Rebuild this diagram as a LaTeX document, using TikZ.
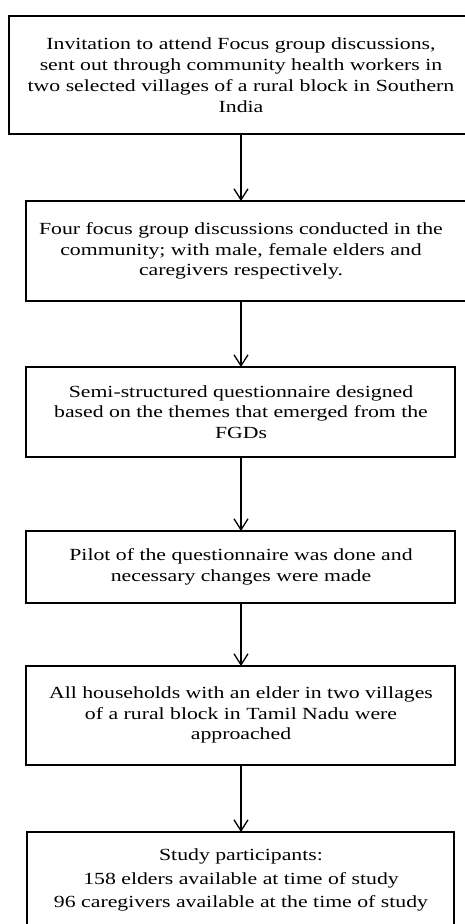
\documentclass[tikz,border=0pt]{standalone}
\usepackage{fontspec}
\setmainfont{Liberation Serif}[FakeStretch=1.28]
\usetikzlibrary{arrows.meta}
\begin{document}
\begin{tikzpicture}[x=1pt,y=-1pt,
  boxframe/.style={draw=black, line width=1.3pt},
  txt/.style={inner sep=0pt, align=center, font=\fontsize{17}{20.8}\selectfont},
  flowarrow/.style={draw=black, line width=1.3pt, -{Straight Barb[length=11pt,width=14pt,line width=1.3pt]}}]
\useasboundingbox (0,0) rectangle (465,924);
\fill[white] (0,0) rectangle (465,924);
% boxes
\draw[boxframe] (9,16) rectangle (480,134);
\draw[boxframe] (26,201) rectangle (480,301);
\draw[boxframe] (26,367) rectangle (455,457);
\draw[boxframe] (26,531) rectangle (455,603);
\draw[boxframe] (26,666) rectangle (455,765);
\draw[boxframe] (27,832) rectangle (454,940);
% texts
\node[txt] (t1) at (241,75) {Invitation to attend Focus group discussions,\\sent out through community health workers in\\two selected villages of a rural block in Southern\\India};
\node[txt] (t2) at (241,251) {Four focus group discussions conducted in the\\community; with male, female elders and\\caregivers respectively.};
\node[txt] (t3) at (241,412) {Semi-structured questionnaire designed\\based on the themes that emerged from the\\FGDs};
\node[txt] (t4) at (241,567) {Pilot of the questionnaire was done and\\necessary changes were made};
\node[txt] (t5) at (241,715) {All households with an elder in two villages\\of a rural block in Tamil Nadu were\\approached};
\node[txt, font=\fontsize{17}{23.5}\selectfont] (t6) at (241,880) {Study participants:\\158 elders available at time of study\\96 caregivers available at the time of study};
% connector anchors
\coordinate (a1) at (241,134);
\coordinate (b2) at (241,201);
\coordinate (a2) at (241,301);
\coordinate (b3) at (241,367);
\coordinate (a3) at (241,457);
\coordinate (b4) at (241,531);
\coordinate (a4) at (241,603);
\coordinate (b5) at (241,666);
\coordinate (a5) at (241,765);
\coordinate (b6) at (241,832);
\draw[flowarrow] (a1) -- (b2);
\draw[flowarrow] (a2) -- (b3);
\draw[flowarrow] (a3) -- (b4);
\draw[flowarrow] (a4) -- (b5);
\draw[flowarrow] (a5) -- (b6);
\end{tikzpicture}
\end{document}
